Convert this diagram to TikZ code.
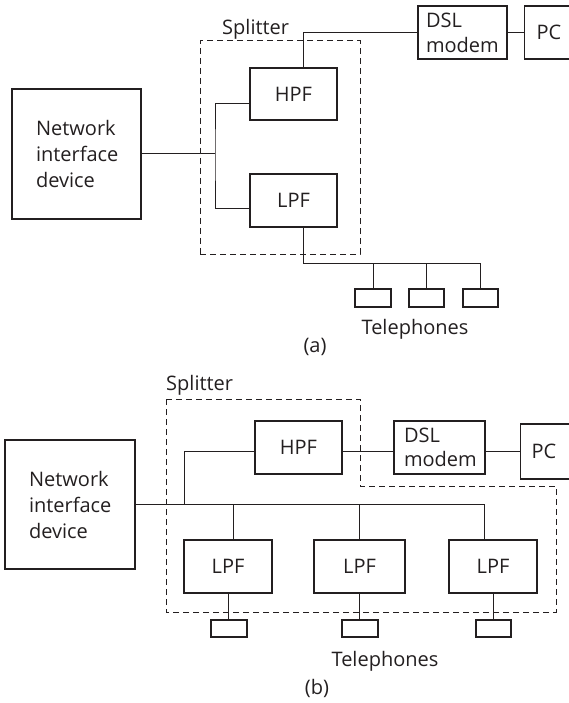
\documentclass[tikz,border=0pt]{standalone}
\usepackage{fontspec}
\setmainfont{Open Sans}
\usetikzlibrary{calc}
\definecolor{ink}{HTML}{231F20}
\begin{document}
\begin{tikzpicture}[x=1pt,y=-1pt,
  every node/.style={text=ink},
  box/.style={draw=ink, line width=1.1pt, inner sep=0pt, font=\fontsize{20}{26}\selectfont},
  lbox/.style={box, align=left},
  phone/.style={draw=ink, line width=1.1pt, inner sep=0pt, minimum height=18pt},
  wire/.style={draw=ink, line width=1pt},
  splitbox/.style={draw=ink, line width=1pt, dash pattern=on 6pt off 4pt},
  lab/.style={inner sep=0pt, font=\fontsize{20}{24}\selectfont}]
\useasboundingbox (0,0) rectangle (568,703);

% ---------- (a) ----------
\node[splitbox, minimum width=160pt, minimum height=213pt] (spla) at (280,147.5) {};
\node[lab, anchor=west] (splalab) at (222,29) {Splitter};
\node[lbox, text width=81pt, inner xsep=24pt, minimum height=130pt] (nida) at (76.5,154) {Network\\interface\\device};
\node[box, minimum width=87pt, minimum height=52pt] (hpfa) at (293.5,94) {HPF};
\node[box, minimum width=87pt, minimum height=53pt] (lpfa) at (293.5,200.5) {LPF};
\node[lbox, text width=73pt, inner xsep=8pt, minimum height=53pt, font=\fontsize{20}{25}\selectfont] (modema) at (462.5,32.5) {DSL\\modem};
\node[lbox, text width=40pt, inner xsep=12pt, minimum height=53pt, anchor=west] (pca) at (524,32.5) {PC};
\node[phone, minimum width=36pt] (ph1a) at (373,298) {};
\node[phone, minimum width=35pt] (ph2a) at (426.5,298) {};
\node[phone, minimum width=35pt] (ph3a) at (480.5,298) {};
\node[lab] (tela) at (415,329) {Telephones};
\node[lab] (capa) at (315,347) {(a)};

\coordinate (busa) at (215,154);
\coordinate (ja) at (480,263);
\draw[wire] (nida.east) -- (busa);
\draw[wire] ($(hpfa.west)+(0,10)$) -| (busa) |- ($(lpfa.west)+(0,8.5)$);
\draw[wire] ($(hpfa.north)+(9.5,0)$) |- (modema.west);
\draw[wire] (modema.east) -- (pca.west);
\draw[wire] ($(lpfa.south)+(9.5,0)$) |- (ja) -- (ph3a.north -| ja);
\draw[wire] (ph1a.north) -- (ph1a.north |- ja);
\draw[wire] (ph2a.north) -- (ph2a.north |- ja);

% ---------- (b) ----------
\draw[splitbox] (166,399) -- (360,399) -- (360,486) -- (556,486) -- (556,612) -- (166,612) -- cycle;
\node[lab, anchor=west] (splblab) at (166,385) {Splitter};
\node[lbox, text width=82pt, inner xsep=24pt, minimum height=129pt] (nidb) at (70,504.5) {Network\\interface\\device};
\node[box, minimum width=87pt, minimum height=53pt] (hpfb) at (298.5,447.5) {HPF};
\node[lbox, text width=71pt, inner xsep=10pt, minimum height=53pt, font=\fontsize{20}{24}\selectfont] (modemb) at (439.5,447.5) {DSL\\modem};
\node[lbox, text width=40pt, inner xsep=11pt, minimum height=55pt, anchor=west] (pcb) at (520,451.5) {PC};
\node[box, minimum width=88pt, minimum height=53pt] (lpf1b) at (228,566.5) {LPF};
\node[box, minimum width=91pt, minimum height=53pt] (lpf2b) at (359.5,566.5) {LPF};
\node[box, minimum width=88pt, minimum height=53pt] (lpf3b) at (493,566.5) {LPF};
\node[phone, minimum width=36pt, minimum height=17pt] (ph1b) at (229,628.5) {};
\node[phone, minimum width=36pt, minimum height=17pt] (ph2b) at (360,628.5) {};
\node[phone, minimum width=35pt, minimum height=17pt] (ph3b) at (493.5,628.5) {};
\node[lab] (telb) at (385,661) {Telephones};
\node[lab] (capb) at (317,688) {(b)};

\coordinate (yb) at (0,451);
\coordinate (busb) at (0,504);
\coordinate (jb) at (184,504);
\draw[wire] (hpfb.east |- yb) -- (modemb.west |- yb);
\draw[wire] (modemb.east |- yb) -- (pcb.west |- yb);
\draw[wire] (hpfb.west |- yb) -| (jb);
\draw[wire] (nidb.east |- busb) -- ($(lpf3b.north |- busb)+(-9,0)$) -- ($(lpf3b.north)+(-9,0)$);
\draw[wire] ($(lpf1b.north)+(5,0)$) -- ($(lpf1b.north |- busb)+(5,0)$);
\draw[wire] (lpf2b.north) -- (lpf2b.north |- busb);
\draw[wire] (lpf1b.south) -- (ph1b.north -| lpf1b.south);
\draw[wire] (lpf2b.south) -- (ph2b.north -| lpf2b.south);
\draw[wire] (lpf3b.south) -- (ph3b.north -| lpf3b.south);
\end{tikzpicture}
\end{document}
